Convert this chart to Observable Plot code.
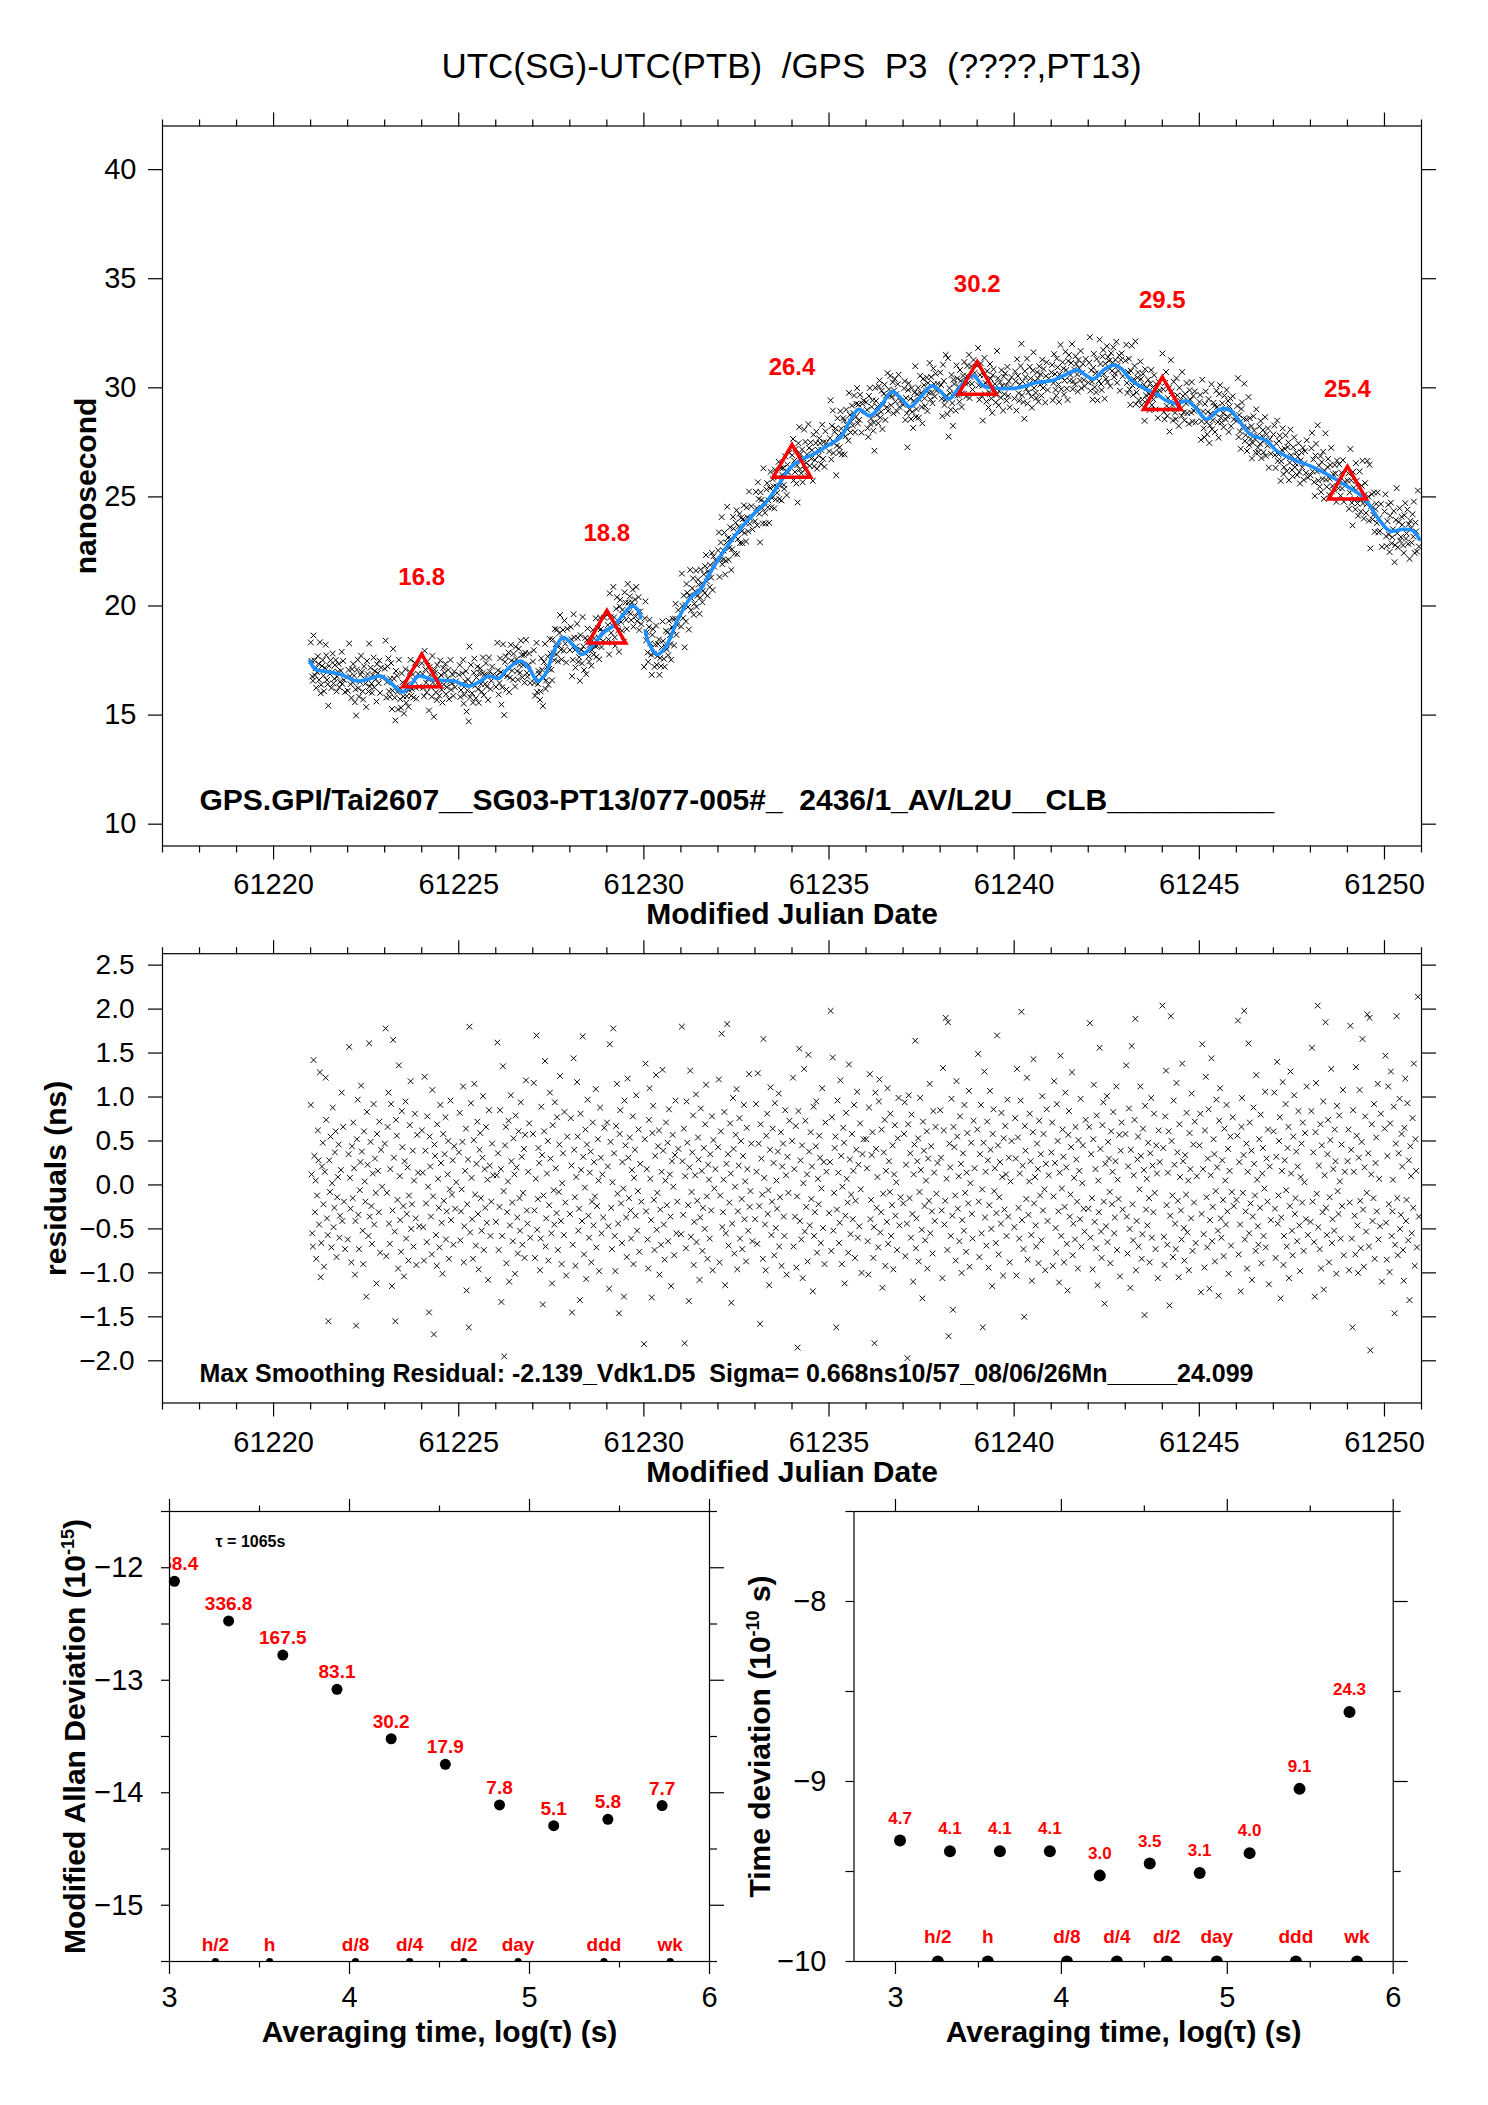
<!DOCTYPE html>
<html>
<head>
<meta charset="utf-8">
<script src="https://cdn.jsdelivr.net/npm/d3@7"></script>
<script src="https://cdn.jsdelivr.net/npm/@observablehq/plot@0.6"></script>
<style>
  html, body { margin: 0; padding: 0; background: #fff; }
  #page { position: relative; width: 1488px; height: 2105px; overflow: hidden; background: #fff;
          font-family: "Liberation Sans", Arial, Helvetica, sans-serif; }
  #title { position: absolute; left: 0; top: 48px; width: 1583px; text-align: center;
           font-size: 35px; line-height: 35px; white-space: pre; color: #000; }
  .panel { position: absolute; }
  .panel svg text { white-space: pre; }
</style>
</head>
<body>
<div id="page">
  <div id="title">UTC(SG)-UTC(PTB)  /GPS  P3  (????,PT13)</div>
  <div class="panel" id="p1" style="left:0;top:100px"></div>
  <div class="panel" id="p2" style="left:0;top:930px"></div>
  <div class="panel" id="p3" style="left:0;top:1490px"></div>
  <div class="panel" id="p4" style="left:744px;top:1490px"></div>
</div>
<script>
const FONT = '"Liberation Sans", Arial, Helvetica, sans-serif';
const RED = "#ff0000";
const BLUE = "#1e90ff";

// ---------- smoothed curve (MJD, ns); NaN = gap ----------
const lineMjd = [61220.98,61221.13,61221.45,61221.81,61222.26,61222.62,61222.89,61223.16,61223.47,61223.65,
  61223.92,61224.24,61224.51,61224.87,61225.27,61225.59,61225.81,61226.08,61226.31,61226.67,
  61226.92,61227.12,61227.34,61227.57,61227.82,61228.11,61228.33,61228.65,61228.91,61229.23,
  61229.45,61229.68,61229.86,61229.91,61229.97,61230.04,61230.13,61230.36,61230.58,61230.90,
  61231.26,61231.52,61231.75,61231.98,61232.42,61232.87,61233.33,61233.68,61233.95,61234.22,
  61234.58,61234.94,61235.30,61235.57,61235.80,61236.11,61236.43,61236.70,61236.92,61237.19,
  61237.46,61237.78,61238.00,61238.23,61238.45,61238.72,61238.90,61239.17,61239.44,61240.07,
  61240.61,61241.06,61241.42,61241.69,61241.96,61242.14,61242.45,61242.70,61242.91,61243.13,
  61243.49,61243.85,61244.12,61244.39,61244.66,61244.89,61245.20,61245.56,61245.83,61246.01,
  61246.37,61246.82,61247.09,61247.63,61247.99,61248.53,61248.98,61249.43,61249.88,61250.15,
  61250.51,61250.78,61250.94];
const lineNs = [17.48,17.10,16.99,16.87,16.56,16.68,16.79,16.48,16.06,16.25,
  16.79,16.64,16.59,16.56,16.33,16.56,16.79,16.68,17.10,17.48,
  17.10,16.56,16.87,17.94,18.55,18.17,17.78,18.24,18.78,19.16,
  19.62,20.00,19.77,19.46,NaN,18.85,18.32,17.78,18.09,19.31,
  20.38,20.75,21.40,22.06,23.13,24.05,24.82,25.66,26.34,26.68,
  26.96,27.34,27.72,28.49,29.02,28.72,29.25,29.83,29.56,29.13,
  29.56,30.09,29.86,29.48,29.86,30.40,30.55,30.09,29.99,29.99,
  30.24,30.35,30.63,30.81,30.55,30.40,30.86,31.04,30.86,30.40,
  29.99,29.71,29.40,29.28,29.40,29.10,28.56,29.02,28.98,28.64,
  27.88,27.57,27.11,26.65,26.42,25.96,25.50,24.97,23.90,23.44,
  23.52,23.44,23.06];

// ---------- daily markers ----------
const markMjd = [61224, 61229, 61234, 61239, 61244, 61249];
const markNs = [16.8, 18.8, 26.4, 30.2, 29.5, 25.4];

// ---------- residuals (ns): one row of 48 tracks per day from MJD 61221 ----------
const firstDay = 61221;
const trackOffsets = [0.004,0.026,0.043,0.061,0.079,0.101,0.118,0.137, 0.152,0.174,0.196,0.213,0.229,0.251,0.272,0.288,
  0.307,0.329,0.346,0.362,0.384,0.407,0.421,0.443, 0.462,0.479,0.503,0.521,0.538,0.562,0.581,0.597,
  0.619,0.642,0.656,0.677,0.701,0.718,0.736,0.759, 0.778,0.794,0.817,0.839,0.856,0.878,0.902,0.931];
const residuals = [
 0.91,0.12,-0.55,-0.70,1.42,0.33,-0.31,0.05, -0.84,-0.12,0.62,0.28,-0.45,1.28,-1.05,-0.66, 0.21,0.48,-0.22,-0.93,0.15,1.22,0.74,-0.38,
 -0.57,-1.55,0.28,-0.08,0.55,-0.71,0.02,0.88, -0.48,-0.26,0.37,0.61,-0.82,-0.14,0.09,0.46, -0.60,-0.35,0.17,1.05,-0.41,0.66,-0.19,-0.73,
 -0.62,0.35,1.57,0.08,-0.27,-0.88,0.44,-0.15, 0.71,0.19,-1.02,-0.41,-1.60,0.52,0.97,-0.34, -0.73,-0.06,0.26,1.13,0.38,-0.52,-0.90,0.61,
 0.04,-0.19,-1.27,0.83,0.23,-0.58,1.61,-0.36, 0.49,-0.24,-0.67,0.13,0.92,-0.45,0.30,-0.09, -1.12,0.58,0.16,-0.31,0.72,-0.77,0.40,-0.02,
 0.47,1.78,-0.81,-0.09,0.66,1.05,-0.44,-0.67, 0.18,0.92,-1.15,-0.29,1.65,0.31,-0.53,-1.55, 0.74,0.56,-0.17,-0.95,1.36,0.10,-0.40,-0.76,
 0.84,0.43,-0.24,-1.04,0.27,0.95,-0.61,-0.33, 0.20,-0.86,-0.12,0.68,1.18,-0.50,-0.22,0.39, -0.70,0.05,0.81,-0.38,-0.91,0.57,0.14,-0.47,
 0.62,0.14,-0.48,-0.86,1.23,0.39,-0.21,-0.65, 0.78,-0.02,-1.45,0.55,0.21,-0.36,-0.79,1.08, -0.13,-1.70,0.46,0.33,-0.57,-0.92,0.69,0.07,
 -0.26,-0.71,0.91,0.25,-0.43,-1.01,0.58,-0.18, 0.35,0.77,-0.62,-0.30,0.12,0.50,-0.84,-0.05, 0.96,-0.40,-0.11,0.28,-0.68,0.44,-0.27,0.03,
 0.37,0.82,-0.63,-0.30,-0.05,0.49,1.12,-0.88, -0.47,0.16,0.64,-1.20,-0.22,0.29,-1.62,1.80, -0.54,0.93,0.08,-0.39,-0.84,0.51,1.15,-0.11,
 -0.69,0.24,0.72,-0.33,-0.96,0.40,0.59,-0.15, -0.52,0.31,1.01,-0.74,0.18,-0.26,0.66,-0.43, 0.06,-1.08,0.85,0.22,-0.58,-0.19,0.47,0.11,
 -0.42,0.11,1.62,0.36,-0.74,-0.25,0.85,0.18, -1.33,-0.58,1.35,-0.07,-1.95,0.45,0.66,-0.89, -0.31,0.04,0.73,-1.10,-0.46,1.02,0.27,-0.20,
 -0.64,0.53,0.12,-1.01,0.79,0.20,-0.37,-0.78, 0.61,-0.15,-0.52,0.94,0.32,-0.68,-0.09,0.41, -0.83,0.57,1.19,-0.29,-0.44,0.15,0.70,-0.60,
 0.58,1.16,-0.29,-0.83,0.07,1.70,-0.51,-0.16, 0.42,0.25,-0.97,-0.61,0.89,0.34,-1.36,-0.12, 0.61,1.41,-0.70,-0.38,0.13,0.50,-0.86,-0.23,
 1.05,0.30,-0.55,-1.12,0.68,-0.06,-0.45,0.94, 0.19,-0.32,0.77,-0.74,-0.08,0.46,1.24,-0.41, -0.90,0.02,0.36,-0.57,0.83,-0.20,-1.03,0.55,
 -0.33,0.76,0.22,-1.45,-0.68,1.44,0.40,-0.14, -0.92,0.09,1.17,0.55,-0.52,-0.27,-1.31,0.81, 0.17,-0.41,1.69,0.32,-0.79,-0.03,0.63,-1.07,
 0.46,0.97,-0.35,-0.60,0.14,0.38,-0.88,-0.19, 0.71,-0.46,0.26,-0.13,1.09,-0.71,-0.24,0.52, 0.05,-0.98,0.88,0.31,-0.55,0.12,-0.37,0.65,
 0.71,0.21,-0.47,-1.18,1.60,0.49,-0.26,-0.73, 0.03,1.78,0.36,-0.58,-0.98,0.67,1.15,-0.10, -0.44,-1.46,0.58,0.85,-0.21,-0.66,0.26,-0.04,
 -1.27,0.96,0.45,-0.37,-0.82,1.21,0.31,-0.15, 0.54,-0.29,-0.61,0.17,0.78,-0.90,0.08,0.40, -0.35,1.02,-0.52,-0.07,0.63,-0.76,0.24,-0.19,
 -1.81,0.52,1.38,-0.30,0.18,-0.62,-0.95,0.74, 1.10,0.07,-0.40,-1.28,0.59,0.90,-0.17,-0.74, 0.33,1.25,-0.51,-0.09,0.44,0.62,-1.02,-0.28,
 -0.68,0.15,1.31,0.39,-0.45,-0.85,0.05,0.71, -0.23,0.48,-0.64,0.86,0.12,-0.36,-1.15,0.27, 0.57,-0.02,-0.80,0.34,0.96,-0.55,-0.19,0.41,
 -0.56,1.80,0.27,-0.34,0.64,-1.80,0.10,-0.72, 0.95,0.48,-0.23,-1.32,0.20,1.30,-0.59,-0.08, 0.37,0.79,-0.91,-0.42,0.11,1.03,-0.65,-0.18,
 0.54,0.29,-1.08,-0.37,0.87,0.16,-0.75,-0.26, 0.42,-0.50,0.69,1.14,-0.13,-0.84,0.23,0.06, -0.61,0.35,-0.29,0.78,-0.97,0.51,-0.04,0.18,
 0.43,1.20,-0.88,-0.12,0.61,1.72,-0.48,-0.31, 0.06,0.83,-1.14,-0.55,0.24,1.83,0.35,-0.69, -0.20,0.70,0.13,-1.34,-0.44,0.99,0.41,-0.78,
 -0.02,0.57,1.09,-0.96,-0.30,0.22,0.76,-0.61, 0.50,-0.16,-0.73,0.33,0.91,-0.39,0.04,-0.87, 0.65,0.18,-0.52,1.26,-0.25,-0.07,0.47,-0.64,
 -0.39,0.92,0.15,-0.67,1.27,0.47,-0.24,-1.58, 0.69,0.30,-0.11,-0.84,1.66,0.08,-0.45,-0.97, 0.56,0.81,-0.33,-0.06,-1.14,0.40,1.11,-0.57,
 -0.19,0.64,0.25,-0.80,0.93,-0.49,0.05,-0.27, 0.38,1.04,-0.70,-0.14,0.60,-0.92,0.21,0.47, -0.36,-0.58,0.85,0.11,-1.02,0.32,-0.09,0.73,
 0.50,1.22,-0.70,0.18,-0.36,0.67,-0.94,-0.13, -1.85,0.84,1.55,-0.41,0.28,-0.62,0.45,-1.06, 0.02,1.32,-0.53,0.73,-0.25,0.12,-0.87,1.48,
 0.38,-0.46,0.60,-0.16,0.21,-1.21,0.89,-0.58, -0.31,0.44,0.95,-0.77,0.07,-0.22,0.56,0.31, -0.66,-0.04,1.10,-0.49,0.26,-0.90,0.71,0.15,
 -0.32,0.26,1.98,-0.75,0.77,1.45,-0.52,-0.09, 0.42,0.55,-1.62,-0.28,0.96,0.14,-0.66,-0.43, 1.19,0.33,-0.90,-0.02,0.65,0.48,-1.12,-0.35,
 0.82,0.07,-0.20,-0.77,1.37,0.29,-0.56,-0.11, 0.58,-0.39,0.16,0.91,-0.83,-0.18,0.40,1.06, -0.60,0.23,-0.47,0.70,-0.05,-1.00,0.35,0.52,
 0.52,0.19,-0.64,-1.02,0.88,1.26,-0.39,-0.17, 0.34,0.60,-0.83,-0.48,-1.80,1.05,0.41,-0.26, 0.09,-0.71,0.95,1.20,-0.54,-0.31,0.63,-1.17,
 -0.10,0.37,0.74,-0.92,0.16,-0.42,1.10,-0.67, 0.27,-0.08,0.81,-0.58,-0.23,0.45,-0.96,0.12, 0.68,-0.35,0.03,-0.74,0.53,0.99,-0.46,-0.14,
 -0.21,0.58,0.94,-0.81,0.23,-0.44,-1.97,0.69, 1.02,-0.15,0.36,-0.60,0.80,-0.33,-1.10,0.12, 0.46,1.64,-0.72,-0.38,0.27,0.53,-0.87,-0.08,
 0.99,0.17,-0.51,-1.29,0.72,0.39,-0.24,-0.63, 0.05,0.61,-0.95,0.30,-0.18,1.15,-0.55,0.44, -0.30,-0.78,0.84,0.14,-0.41,0.66,-0.10,0.25,
 0.85,0.31,-0.29,-1.06,1.33,0.62,-0.45,-0.18, 1.90,0.07,-0.74,1.85,-1.72,0.47,0.20,-0.58, 0.98,-0.35,-1.42,0.66,0.43,-0.12,-0.86,1.18,
 0.55,-0.27,0.10,-0.64,0.78,0.24,-1.00,-0.40, 0.36,-0.52,0.91,-0.09,-0.76,0.14,0.59,-0.21, 1.07,-0.93,0.02,0.48,-0.33,-0.61,0.73,0.19,
 0.63,1.49,-0.19,-0.82,0.35,0.91,-0.55,-0.05, -1.62,0.48,1.29,-0.37,0.15,-0.69,0.72,0.28, -0.94,-0.23,1.07,0.40,-0.50,-1.15,0.58,0.86,
 -0.07,0.19,-0.66,-0.32,1.70,0.45,-0.79,-0.14, 0.26,-0.44,0.82,0.09,-1.03,0.53,-0.28,0.67, 0.12,-0.58,0.97,-0.36,0.31,-0.88,0.04,0.50,
 -0.48,0.76,0.30,-1.03,1.32,0.54,-0.26,-0.61, 0.13,0.96,1.97,-0.40,0.22,-0.73,-1.50,0.67, 0.39,-0.16,1.22,-0.85,-0.34,0.04,0.81,0.27,
 -0.57,-1.09,0.60,1.43,-0.21,0.09,-0.46,-0.70, 0.47,0.18,-0.89,0.73,-0.12,0.35,-0.63,1.01, -0.29,0.58,-0.05,-0.97,0.24,0.86,-0.41,0.11,
 0.37,0.71,-0.92,-0.13,1.18,0.25,-0.49,-0.77, 0.92,0.50,-0.30,-1.11,0.14,1.47,-0.58,-0.04, 0.63,0.32,-0.88,-0.25,1.05,0.20,-0.67,-1.20,
 0.57,0.84,-0.36,-0.11,0.43,1.28,-0.80,-0.44, 0.08,-0.62,0.66,0.29,-0.19,-0.95,0.51,0.16, -0.39,0.98,-0.70,0.02,0.45,-0.27,-0.53,0.74,
 -0.27,0.66,1.84,-0.60,0.35,-0.15,-0.96,0.52, 1.14,-0.42,0.18,-0.72,0.79,-1.14,0.05,-0.31, 1.56,0.41,-0.53,-0.83,0.68,0.94,-0.19,-1.35,
 0.24,-0.47,1.01,-0.65,0.49,0.30,-0.08,-0.89, 0.61,-0.22,0.15,0.83,-0.55,-0.37,0.27,1.12, -0.74,0.06,-0.16,0.57,-1.04,0.39,0.71,-0.28,
 0.58,1.36,-0.36,-0.78,0.21,0.87,-0.50,-1.17, 0.40,1.58,-0.22,-0.63,0.11,0.74,1.89,-0.97, -0.41,0.29,0.55,-0.70,-0.05,1.12,0.33,-0.84,
 -0.56,0.64,0.17,-1.48,0.90,-0.28,0.07,-0.46, 0.48,-0.15,-0.88,0.36,0.99,-0.60,0.22,-0.31, 0.81,-0.09,-0.73,0.45,0.13,-1.06,0.62,0.26,
 2.04,0.42,-0.59,-0.91,0.78,1.30,-0.23,-0.68, 0.14,0.61,-1.37,-0.35,1.92,0.50,-0.12,-0.82, 0.96,0.23,-0.44,-0.73,1.16,0.37,-0.18,-1.05,
 0.69,0.09,-0.29,-0.62,1.38,0.27,-0.49,-0.86, 0.34,-0.11,0.82,-0.54,0.05,-0.97,0.59,0.18, -0.38,1.04,-0.75,0.46,-0.20,0.72,-0.66,0.10,
 0.45,0.81,-1.22,-0.33,1.60,0.18,-0.56,-0.94, 0.62,1.23,-0.14,-0.71,0.30,0.86,-1.18,-0.40, 0.11,1.44,-0.64,-0.25,0.52,0.35,-0.87,-0.07,
 0.97,0.20,-0.52,-1.26,0.73,1.10,-0.38,-0.60, 0.28,-0.17,-0.81,0.64,0.05,-0.45,0.91,-0.30, 0.41,-1.01,0.16,0.55,-0.69,-0.08,0.77,-0.24,
 -0.17,0.56,1.87,-0.79,0.26,-0.45,-1.21,0.66, 0.99,-0.09,0.34,1.98,-0.62,-0.30,0.47,-0.95, 0.15,1.61,-0.55,0.71,-0.21,0.39,-1.08,-0.36,
 0.88,0.24,-0.12,-0.75,1.25,0.06,-0.47,-0.68, 0.52,-0.26,0.80,-0.89,0.13,0.42,-0.58,-0.04, 1.06,-0.71,0.30,-0.19,0.63,-1.13,0.21,-0.40,
 0.61,1.05,-0.27,-0.83,0.32,1.40,-0.44,-0.12, 0.50,0.77,-1.29,-0.37,0.16,1.17,-0.91,-0.58, 0.28,0.92,-0.06,-0.70,0.42,0.66,-1.06,-0.24,
 1.29,0.13,-0.52,-0.80,0.55,1.02,-0.33,-0.15, 0.38,-0.64,0.21,0.84,-0.46,-0.98,0.09,0.47, -0.20,0.71,-0.75,0.03,0.59,-0.39,1.12,-0.57,
 -0.42,0.84,1.56,-0.19,0.37,-0.65,-1.27,0.60, 1.16,-0.10,2.04,-0.48,0.22,-0.73,0.69,-0.95, 0.45,-0.31,0.95,-1.19,0.11,1.85,-0.26,-0.57,
 0.35,0.74,-0.88,-0.14,0.51,1.32,-0.66,-0.39, 0.18,-0.52,0.63,0.27,-1.01,0.90,-0.07,-0.33, 0.79,0.04,-0.61,0.46,-0.24,1.08,-0.80,0.15,
 0.27,0.63,-0.97,-0.20,1.81,0.40,-0.61,-1.62, 0.85,0.15,-0.35,-0.79,1.34,0.56,-0.46,-1.00, 0.31,1.08,-0.18,-0.72,0.49,1.66,-0.28,-0.93,
 0.20,0.78,-0.53,-0.09,1.94,0.36,-0.70,1.90, -1.88,0.12,0.69,-0.41,-0.15,0.92,-0.84,0.25, 0.54,-0.30,1.15,-0.62,0.07,-0.47,0.81,-1.10,
 0.64,1.47,-0.43,-0.85,0.33,1.12,-0.22,-0.99, 0.70,1.29,-0.58,-0.30,0.06,0.89,-1.46,-0.68, 0.47,1.92,-0.15,-0.80,0.36,0.98,-0.50,-0.34,
 0.58,0.21,-0.74,-1.09,0.65,1.21,-0.41,-0.17, 0.93,-0.63,0.28,-1.31,0.44,0.10,-0.55,0.76, -0.26,1.38,-0.92,0.52,0.16,-0.71,2.14,-0.36
];

// ---------- axes tick values ----------
const mjdTicks = [61220, 61225, 61230, 61235, 61240, 61245, 61250];
const mjdMinor = [61217,61218,61219,61221,61222,61223,61224,61226,61227,61228,61229,61231,61232,61233,61234,
  61236,61237,61238,61239,61241,61242,61243,61244,61246,61247,61248,61249,61251];
const nsTicks = [10, 15, 20, 25, 30, 35, 40];
const resTicks = [-2, -1.5, -1, -0.5, 0, 0.5, 1, 1.5, 2, 2.5];

// ---------- stability ----------
const tauSec = [1065, 2130, 4260, 8520, 17040, 34080, 68160, 136320, 272640, 545280];
const mdevVals = [758.4, 336.8, 167.5, 83.1, 30.2, 17.9, 7.8, 5.1, 5.8, 7.7];   // 1e-15
const tdevVals = [4.7, 4.1, 4.1, 4.1, 3.0, 3.5, 3.1, 4.0, 9.1, 24.3];             // 1e-10 s
const periodNames = ["h/2", "h", "d/8", "d/4", "d/2", "day", "ddd", "wk"];
const periodSec = [1800, 3600, 10800, 21600, 43200, 86400, 259200, 604800];
const logTicks = [3, 4, 5, 6];
const logMinor = [3.5, 4.5, 5.5];
const mdevTicks = [-15, -14, -13, -12];
const mdevMinor = [-15.5, -14.5, -13.5, -12.5, -11.5];
const tdevTicks = [-10, -9, -8];
const tdevMinor = [-9.5, -8.5, -7.5];

const annotTop = "GPS.GPI/Tai2607__SG03-PT13/077-005#_  2436/1_AV/L2U__CLB__________";
const annotRes = "Max Smoothing Residual: -2.139_Vdk1.D5  Sigma= 0.668ns10/57_08/06/26Mn_____24.099";

// ---------- derived tables ----------
const lineTable = lineMjd.map((t, i) => ({t, v: lineNs[i]}));
const knots = lineTable.filter(d => !isNaN(d.v));
const bis = d3.bisector(d => d.t).right;
function smoothAt(t) {
  let i = bis(knots, t);
  i = Math.max(1, Math.min(knots.length - 1, i));
  const a = knots[i - 1], b = knots[i];
  return a.v + (b.v - a.v) * (t - a.t) / (b.t - a.t);
}
const nTracks = trackOffsets.length;
const points = residuals.map((r, i) => {
  const t = firstDay + Math.floor(i / nTracks) + trackOffsets[i % nTracks];
  return {t, r, v: smoothAt(t) + r};
});
const marks = markMjd.map((t, i) => ({t, v: markNs[i], label: markNs[i].toFixed(1)}));
const mdevData = tauSec.map((s, i) => ({x: Math.log10(s), y: Math.log10(mdevVals[i] * 1e-15), label: mdevVals[i].toFixed(1)}));
const tdevData = tauSec.map((s, i) => ({x: Math.log10(s), y: Math.log10(tdevVals[i] * 1e-10), label: tdevVals[i].toFixed(1)}));
const periods = periodSec.map((s, i) => ({x: Math.log10(s), name: periodNames[i]}));

const style = {fontFamily: FONT, color: "black", background: "none", overflow: "visible"};
const noText = () => "";

function axes(o) {
  const s = {stroke: "black", strokeWidth: 1.2, label: null};
  const h = {...s, fill: "none", tickFormat: noText};
  const m = [
    Plot.axisX(o.xMajor, {...s, anchor: "bottom", tickSize: o.xs, tickPadding: o.xp, tickFormat: o.xf, fontSize: o.xfs, fill: "black"}),
    Plot.axisX(o.xMajor, {...h, anchor: "top", tickSize: o.xs}),
    Plot.axisX(o.xMinor, {...h, anchor: "bottom", tickSize: o.xms}),
    Plot.axisX(o.xMinor, {...h, anchor: "top", tickSize: o.xms}),
    Plot.axisY(o.yMajor, {...s, anchor: "left", tickSize: o.ysl, tickPadding: o.yp, tickFormat: o.yf, fontSize: o.yfs, fill: "black"}),
    Plot.axisY(o.yMajor, {...h, anchor: "right", tickSize: o.ysr})
  ];
  if (o.yMinor) {
    m.push(Plot.axisY(o.yMinor, {...h, anchor: "left", tickSize: o.ymsl}));
    m.push(Plot.axisY(o.yMinor, {...h, anchor: "right", tickSize: o.ymsr}));
  }
  return m;
}
const frame = () => Plot.frame({stroke: "black", strokeWidth: 1.2});
const one = s => [s];

// ---------- panel 1: data + smoothing ----------
const p1 = Plot.plot({
  width: 1488, height: 850,
  marginLeft: 162, marginRight: 67, marginTop: 25.5, marginBottom: 104.5,
  style,
  x: {domain: [61217, 61251]},
  y: {domain: [9, 42]},
  marks: [
    ...axes({xMajor: mjdTicks, xMinor: mjdMinor, xs: 14, xms: 7, xp: 13.4, xf: "d", xfs: 29,
             yMajor: nsTicks, ysl: 14, ysr: 14, yp: 12, yf: "d", yfs: 29}),
    Plot.dot(points, {x: "t", y: "v", symbol: "times", r: 2.7, stroke: "black", strokeWidth: 1.0, clip: true}),
    Plot.line(lineTable, {x: "t", y: "v", stroke: BLUE, strokeWidth: 3.6, curve: "catmull-rom"}),
    Plot.dot(marks, {x: "t", y: "v", symbol: "triangle", r: 14, stroke: RED, strokeWidth: 3.5, fill: "none"}),
    Plot.text(marks, {x: "t", y: "v", text: "label", dy: -91, lineAnchor: "bottom", textAnchor: "middle",
                      fill: RED, fontWeight: "bold", fontSize: 24}),
    Plot.text(one(annotTop), {text: d => d, frameAnchor: "bottom-left", dx: 37, dy: -36.5,
                      textAnchor: "start", lineAnchor: "bottom", fontWeight: "bold", fontSize: 30, fill: "black"}),
    Plot.text(one("Modified Julian Date"), {text: d => d, frameAnchor: "bottom", dy: 78,
                      textAnchor: "middle", lineAnchor: "bottom", fontWeight: "bold", fontSize: 30, fill: "black"}),
    Plot.text(one("nanosecond"), {text: d => d, frameAnchor: "left", dx: -67, rotate: -90,
                      textAnchor: "middle", lineAnchor: "bottom", fontWeight: "bold", fontSize: 30, fill: "black"}),
    frame()
  ]
});
document.getElementById("p1").append(p1);

// ---------- panel 2: residuals ----------
const p2 = Plot.plot({
  width: 1488, height: 570,
  marginLeft: 162, marginRight: 67, marginTop: 23.2, marginBottom: 97.5,
  style,
  x: {domain: [61217, 61251]},
  y: {domain: [-2.48, 2.63]},
  marks: [
    ...axes({xMajor: mjdTicks, xMinor: mjdMinor, xs: 14, xms: 7, xp: 14, xf: "d", xfs: 29,
             yMajor: resTicks, ysl: 14, ysr: 14, yp: 14, yf: ".1f", yfs: 28}),
    Plot.dot(points, {x: "t", y: "r", symbol: "times", r: 2.7, stroke: "black", strokeWidth: 0.95, clip: true}),
    Plot.text(one(annotRes), {text: d => d, frameAnchor: "bottom-left", dx: 37, dy: -21.5,
                      textAnchor: "start", lineAnchor: "bottom", fontWeight: "bold", fontSize: 25, fill: "black"}),
    Plot.text(one("Modified Julian Date"), {text: d => d, frameAnchor: "bottom", dy: 79,
                      textAnchor: "middle", lineAnchor: "bottom", fontWeight: "bold", fontSize: 30, fill: "black"}),
    Plot.text(one("residuals (ns)"), {text: d => d, frameAnchor: "left", dx: -97, rotate: -90,
                      textAnchor: "middle", lineAnchor: "bottom", fontWeight: "bold", fontSize: 30, fill: "black"}),
    frame()
  ]
});
document.getElementById("p2").append(p2);

// ---------- panel 3: modified Allan deviation ----------
const p3 = Plot.plot({
  width: 744, height: 615,
  marginLeft: 169, marginRight: 35, marginTop: 21, marginBottom: 144,
  style,
  x: {domain: [3, 6]},
  y: {domain: [-15.5, -11.5]},
  marks: [
    ...axes({xMajor: logTicks, xMinor: logMinor, xs: 13, xms: 6.5, xp: 11.5, xf: "d", xfs: 29,
             yMajor: mdevTicks, yMinor: mdevMinor, ysl: 8, ysr: 14, ymsl: 8, ymsr: 7, yp: 18, yf: "d", yfs: 29}),
    Plot.dot(mdevData, {x: "x", y: "y", r: 5.5, fill: "black"}),
    Plot.text(mdevData, {x: "x", y: "y", text: "label", dy: -11, lineAnchor: "bottom", textAnchor: "middle",
                         fill: RED, fontWeight: "bold", fontSize: 19, clip: true}),
    Plot.dot(periods, {x: "x", y: () => -15.5, r: 3.6, fill: "black", clip: true}),
    Plot.text(periods, {x: "x", y: () => -15.5, text: "name", dy: -10.7, lineAnchor: "bottom", textAnchor: "middle",
                        fill: RED, fontWeight: "bold", fontSize: 19}),
    Plot.text(one("\u03c4 = 1065s"), {text: d => d, frameAnchor: "top-left", dx: 46, dy: 35,
                        textAnchor: "start", lineAnchor: "bottom", fontSize: 16, fontWeight: "bold", fill: "black"}),
    Plot.text(one("Averaging time, log(\u03c4) (s)"), {text: d => d, frameAnchor: "bottom", dy: 80,
                        textAnchor: "middle", lineAnchor: "bottom", fontWeight: "bold", fontSize: 30, fill: "black"}),
    Plot.text(one("Modified Allan Deviation (10-15)"), {text: d => d, frameAnchor: "left", dx: -85, rotate: -90,
                        textAnchor: "middle", lineAnchor: "bottom", fontWeight: "bold", fontSize: 30, fill: "black"}),
    frame()
  ]
});
document.getElementById("p3").append(p3);

// ---------- panel 4: time deviation ----------
const p4 = Plot.plot({
  width: 744, height: 615,
  marginLeft: 109.5, marginRight: 95.3, marginTop: 21, marginBottom: 144,
  style,
  x: {domain: [2.75, 6]},
  y: {domain: [-10, -7.5]},
  marks: [
    ...axes({xMajor: logTicks, xMinor: logMinor, xs: 13, xms: 6.5, xp: 11.5, xf: "d", xfs: 29,
             yMajor: tdevTicks, yMinor: tdevMinor, ysl: 8, ysr: 14, ymsl: 8, ymsr: 7, yp: 19.5, yf: "d", yfs: 29}),
    Plot.dot(tdevData, {x: "x", y: "y", r: 6, fill: "black"}),
    Plot.text(tdevData, {x: "x", y: "y", text: "label", dy: -17, lineAnchor: "bottom", textAnchor: "middle",
                         fill: RED, fontWeight: "bold", fontSize: 17, clip: true}),
    Plot.dot(periods, {x: "x", y: () => -10, r: 6, fill: "black", clip: true}),
    Plot.text(periods, {x: "x", y: () => -10, text: "name", dy: -18.7, lineAnchor: "bottom", textAnchor: "middle",
                        fill: RED, fontWeight: "bold", fontSize: 19}),
    Plot.text(one("Averaging time, log(\u03c4) (s)"), {text: d => d, frameAnchor: "bottom", dy: 80,
                        textAnchor: "middle", lineAnchor: "bottom", fontWeight: "bold", fontSize: 30, fill: "black"}),
    Plot.text(one("Time deviation (10-10 s)"), {text: d => d, frameAnchor: "left", dx: -84.5, rotate: -90,
                        textAnchor: "middle", lineAnchor: "bottom", fontWeight: "bold", fontSize: 30, fill: "black"}),
    frame()
  ]
});
document.getElementById("p4").append(p4);

// ---------- superscripts in axis titles ----------
function supify(svg, plain, before, sup, after) {
  const NS = "http://www.w3.org/2000/svg";
  svg.querySelectorAll("text").forEach(t => {
    if (t.textContent === plain) {
      t.textContent = "";
      const a = document.createElementNS(NS, "tspan"); a.textContent = before; t.appendChild(a);
      const b = document.createElementNS(NS, "tspan"); b.textContent = sup;
      b.setAttribute("dy", "-11"); b.setAttribute("font-size", "18"); t.appendChild(b);
      const c = document.createElementNS(NS, "tspan"); c.textContent = after;
      c.setAttribute("dy", "11"); t.appendChild(c);
    }
  });
}
supify(p3, "Modified Allan Deviation (10-15)", "Modified Allan Deviation (10", "-15", ")");
supify(p4, "Time deviation (10-10 s)", "Time deviation (10", "-10", " s)");
</script>
</body>
</html>
